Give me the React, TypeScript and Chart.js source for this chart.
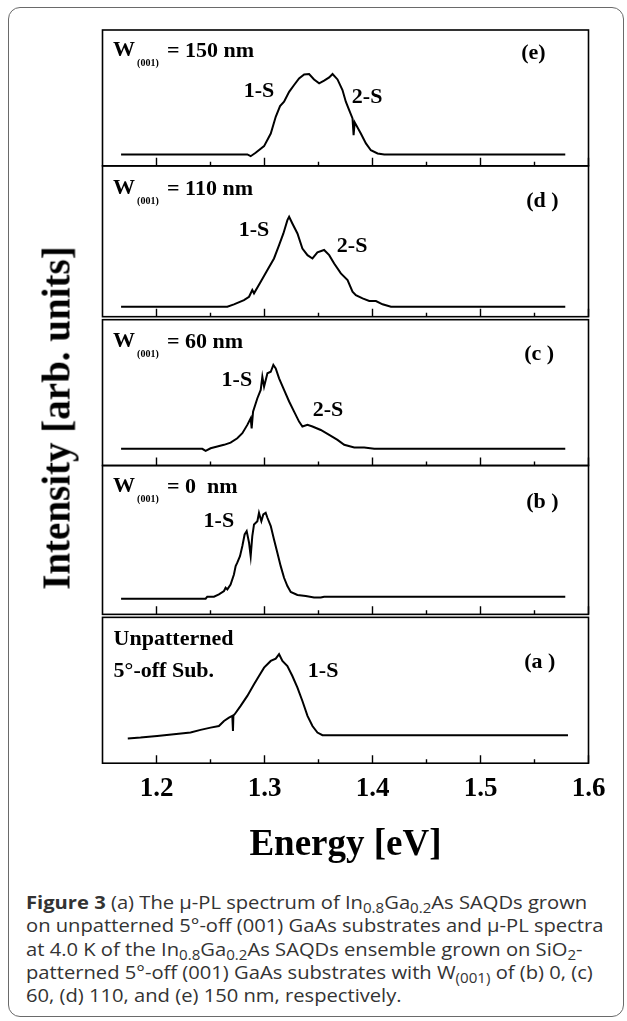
import React, { useEffect, useRef } from "react";
import { Chart, registerables } from "chart.js";

Chart.register(...registerables);

// ---------- axis ----------
const X_MIN = 1.15;
const X_MAX = 1.6;
const MAJOR_TICKS = [1.2, 1.3, 1.4, 1.5, 1.6];
const MINOR_TICKS = [1.25, 1.35, 1.45, 1.55];

// ---------- data (energy [eV], intensity [arb. units, panel fraction]) ----------
// (e) W(001) = 150 nm
const E_E = [1.1672, 1.2841, 1.2872, 1.2918, 1.2996, 1.3058, 1.3104, 1.3144, 1.3181, 1.3228, 1.3274, 1.332, 1.3367, 1.3413, 1.3459, 1.3506, 1.3552, 1.3599, 1.363, 1.3676, 1.3722, 1.3753, 1.3784, 1.3815, 1.3825, 1.3835, 1.3892, 1.3939, 1.3985, 1.4047, 1.4109, 1.5785];
const I_E = [0.084, 0.084, 0.071, 0.096, 0.145, 0.238, 0.361, 0.44, 0.472, 0.545, 0.595, 0.644, 0.673, 0.676, 0.636, 0.607, 0.627, 0.651, 0.676, 0.636, 0.558, 0.472, 0.41, 0.349, 0.226, 0.32, 0.238, 0.165, 0.115, 0.091, 0.084, 0.084];

// (d) W(001) = 110 nm
const E_D = [1.1672, 1.2656, 1.2717, 1.281, 1.2857, 1.2887, 1.2903, 1.2965, 1.3027, 1.3088, 1.3135, 1.3175, 1.3212, 1.3228, 1.3258, 1.3305, 1.3351, 1.3398, 1.3444, 1.349, 1.3552, 1.3599, 1.3645, 1.3707, 1.3769, 1.3815, 1.3846, 1.3908, 1.397, 1.4032, 1.4093, 1.4171, 1.5785];
const I_D = [0.066, 0.066, 0.082, 0.11, 0.132, 0.177, 0.155, 0.232, 0.309, 0.386, 0.475, 0.552, 0.64, 0.662, 0.618, 0.552, 0.452, 0.408, 0.386, 0.426, 0.442, 0.408, 0.353, 0.287, 0.243, 0.166, 0.143, 0.121, 0.104, 0.104, 0.082, 0.066, 0.066];

// (c) W(001) = 60 nm
const E_C = [1.1672, 1.2424, 1.2455, 1.2501, 1.2563, 1.2625, 1.2686, 1.2748, 1.2795, 1.2841, 1.2872, 1.2881, 1.2894, 1.2934, 1.2965, 1.298, 1.2996, 1.3027, 1.3058, 1.3082, 1.3104, 1.3135, 1.3181, 1.3228, 1.3274, 1.332, 1.3351, 1.3398, 1.3444, 1.3521, 1.3599, 1.3676, 1.3738, 1.3831, 1.3923, 1.4016, 1.5785];
const I_C = [0.112, 0.112, 0.098, 0.116, 0.128, 0.139, 0.154, 0.183, 0.217, 0.273, 0.318, 0.25, 0.362, 0.452, 0.508, 0.597, 0.53, 0.62, 0.63, 0.676, 0.653, 0.586, 0.508, 0.43, 0.362, 0.295, 0.262, 0.273, 0.262, 0.239, 0.206, 0.172, 0.139, 0.121, 0.121, 0.112, 0.112];

// (b) W(001) = 0 nm
const E_B = [1.1672, 1.2455, 1.247, 1.2532, 1.2578, 1.2625, 1.264, 1.2656, 1.2686, 1.2717, 1.2733, 1.2748, 1.2773, 1.2795, 1.2816, 1.2835, 1.2857, 1.2872, 1.2887, 1.2903, 1.2934, 1.2949, 1.2971, 1.2989, 1.3011, 1.3027, 1.3058, 1.3088, 1.3119, 1.315, 1.3181, 1.3212, 1.3243, 1.3305, 1.3382, 1.3459, 1.3521, 1.3552, 1.5785];
const I_B = [0.105, 0.105, 0.119, 0.119, 0.134, 0.157, 0.179, 0.168, 0.201, 0.268, 0.324, 0.347, 0.391, 0.459, 0.537, 0.559, 0.481, 0.391, 0.526, 0.604, 0.626, 0.682, 0.626, 0.671, 0.682, 0.649, 0.593, 0.503, 0.414, 0.324, 0.246, 0.19, 0.15, 0.13, 0.123, 0.114, 0.114, 0.119, 0.119];

// (a) unpatterned 5°-off substrate
const E_A = [1.1734, 1.1852, 1.2006, 1.2161, 1.2315, 1.2408, 1.2501, 1.2578, 1.2625, 1.2671, 1.2702, 1.2708, 1.2712, 1.2724, 1.2779, 1.2841, 1.2903, 1.2949, 1.2996, 1.3058, 1.3104, 1.3135, 1.3166, 1.3212, 1.3258, 1.3305, 1.3351, 1.3398, 1.3444, 1.349, 1.3537, 1.581];
const I_A = [0.166, 0.172, 0.183, 0.195, 0.206, 0.224, 0.239, 0.25, 0.284, 0.306, 0.318, 0.217, 0.32, 0.329, 0.385, 0.452, 0.53, 0.586, 0.642, 0.687, 0.702, 0.732, 0.687, 0.653, 0.586, 0.508, 0.418, 0.318, 0.25, 0.206, 0.188, 0.188];

const PANEL_IDS = ["e", "d", "c", "b", "a"];
const PANEL_E = [E_E, E_D, E_C, E_B, E_A];
const PANEL_I = [I_E, I_D, I_C, I_B, I_A];
const W_VALUES = ["150", "110", "60", "0", null];
const PANEL_TAGS = ["(e)", "(d )", "(c )", "(b )", "(a )"];

// ---------- layout (not data) ----------
const AREA_TOP = 30;
const AREA_BOTTOM = 764;
const PANEL_HEIGHTS = [136, 151, 149, 149, 149];
const PANEL_INSET = [0, 0, 3, 0, 3];

// label anchors in data coords (energy, panel fraction)
const W_POS = [[1.1598, 0.849], [1.1598, 0.85], [1.1598, 0.836], [1.1598, 0.862]];
const TAG_POS = [[1.5377, 0.831], [1.5423, 0.762], [1.5405, 0.745], [1.5423, 0.752], [1.5405, 0.678]];
const PEAK_LABELS = [
  { panel: 0, text: "1-S", pos: [1.2807, 0.546] },
  { panel: 0, text: "2-S", pos: [1.3809, 0.507] },
  { panel: 1, text: "1-S", pos: [1.2761, 0.57] },
  { panel: 1, text: "2-S", pos: [1.367, 0.464] },
  { panel: 2, text: "1-S", pos: [1.2603, 0.57] },
  { panel: 2, text: "2-S", pos: [1.3447, 0.369] },
  { panel: 3, text: "1-S", pos: [1.2436, 0.624] },
  { panel: 4, text: "1-S", pos: [1.3401, 0.617] },
  { panel: 4, text: "Unpatterned", pos: [1.1603, 0.832] },
  { panel: 4, text: "5°-off Sub.", pos: [1.1603, 0.617] },
];

const SERIF = '"Liberation Serif", "Times New Roman", serif';

function buildYScales() {
  const total = AREA_BOTTOM - AREA_TOP;
  const scales: Record<string, any> = {};
  let offset = 0;
  PANEL_IDS.forEach((id, i) => {
    const h = PANEL_HEIGHTS[i];
    const f1 = 1 - offset / total;
    const f0 = 1 - (offset + h) / total;
    offset += h;
    scales["y" + id] = {
      type: "linear",
      display: false,
      min: -f0 / (f1 - f0),
      max: (1 - f0) / (f1 - f0),
    };
  });
  return scales;
}

const framePlugin = {
  id: "panelFrames",
  afterDatasetsDraw(chart: any) {
    const { ctx, chartArea, scales } = chart;
    const xs = scales.x;
    ctx.save();
    ctx.strokeStyle = "#000";
    ctx.fillStyle = "#000";
    PANEL_IDS.forEach((id, i) => {
      const ys = scales["y" + id];
      const top = ys.getPixelForValue(1) + PANEL_INSET[i];
      const bottom = ys.getPixelForValue(0);
      ctx.lineWidth = 1.6;
      ctx.strokeRect(chartArea.left, top, chartArea.right - chartArea.left, bottom - top);
      ctx.lineWidth = 1.4;
      ctx.beginPath();
      MAJOR_TICKS.forEach((v) => {
        const x = xs.getPixelForValue(v);
        ctx.moveTo(x, bottom);
        ctx.lineTo(x, bottom - 8);
      });
      MINOR_TICKS.forEach((v) => {
        const x = xs.getPixelForValue(v);
        ctx.moveTo(x, bottom);
        ctx.lineTo(x, bottom - 4);
      });
      ctx.stroke();

      ctx.textBaseline = "middle";
      ctx.textAlign = "left";
      const w = W_VALUES[i];
      if (w !== null) {
        const [ex, fy] = W_POS[i];
        const x = xs.getPixelForValue(ex);
        const y = ys.getPixelForValue(fy);
        ctx.font = `bold 22px ${SERIF}`;
        ctx.fillText("W", x, y);
        ctx.font = `bold 10px ${SERIF}`;
        ctx.fillText("(001)", x + 24, y + 13);
        ctx.font = `bold 22px ${SERIF}`;
        ctx.fillText(w === "0" ? "= 0  nm" : `= ${w} nm`, x + 54, y + 1);
      }
      const [tx, ty] = TAG_POS[i];
      ctx.font = `bold 22px ${SERIF}`;
      ctx.fillText(PANEL_TAGS[i], xs.getPixelForValue(tx), ys.getPixelForValue(ty));
    });
    PEAK_LABELS.forEach((l) => {
      const ys = scales["y" + PANEL_IDS[l.panel]];
      ctx.font = `bold 22px ${SERIF}`;
      ctx.fillText(l.text, xs.getPixelForValue(l.pos[0]), ys.getPixelForValue(l.pos[1]));
    });
    ctx.restore();
  },
};

function SpectraChart() {
  const ref = useRef<HTMLCanvasElement | null>(null);
  useEffect(() => {
    if (!ref.current) return;
    const chart = new Chart(ref.current, {
      type: "line",
      data: {
        datasets: PANEL_IDS.map((id, i) => ({
          label: id,
          data: PANEL_E[i].map((x, k) => ({ x, y: PANEL_I[i][k] })),
          yAxisID: "y" + id,
          borderColor: "#000",
          borderWidth: 2,
          pointRadius: 0,
          tension: 0,
          fill: false,
        })),
      },
      options: {
        animation: false,
        responsive: true,
        maintainAspectRatio: false,
        layout: { padding: { left: 102.5, right: 38.5, top: AREA_TOP, bottom: 0 } },
        plugins: { legend: { display: false }, tooltip: { enabled: false } },
        scales: {
          x: {
            type: "linear",
            min: X_MIN,
            max: X_MAX,
            afterBuildTicks: (s: any) => {
              s.ticks = MAJOR_TICKS.map((v) => ({ value: v }));
            },
            grid: { display: false, drawTicks: false },
            border: { display: false },
            ticks: {
              font: { family: SERIF, size: 27, weight: "bold" },
              color: "#000",
              padding: 10,
              maxRotation: 0,
              autoSkip: false,
              callback: (v: any) => Number(v).toFixed(1),
            },
            title: {
              display: true,
              text: "Energy [eV]",
              font: { family: SERIF, size: 37, weight: "bold" },
              color: "#000",
              padding: { top: 8, bottom: 2 },
            },
          },
          ...buildYScales(),
        },
      } as any,
      plugins: [framePlugin],
    });
    return () => chart.destroy();
  }, []);
  return (
    <div style={{ position: "absolute", left: 0, top: 0, width: 627, height: 870 }}>
      <canvas ref={ref} />
    </div>
  );
}

const subStyle: React.CSSProperties = { fontSize: "0.75em", verticalAlign: "-0.3em", lineHeight: 0 };

export default function App() {
  return (
    <div style={{ position: "absolute", left: 0, top: 0, width: 627, height: 1021, background: "#fff" }}>
      <div
        style={{
          position: "absolute",
          left: 8,
          top: 7,
          width: 616,
          height: 1010,
          boxSizing: "border-box",
          border: "1.5px solid #6a6a6a",
          borderRadius: 12,
        }}
      />
      <SpectraChart />
      <div
        style={{
          position: "absolute",
          left: 56,
          top: 418,
          transform: "translate(-50%, -50%) rotate(-90deg)",
          whiteSpace: "nowrap",
          fontFamily: SERIF,
          fontWeight: "bold",
          fontSize: 39,
          color: "#000",
          lineHeight: 1,
        }}
      >
        Intensity [arb. units]
      </div>
      <div
        style={{
          position: "absolute",
          left: 26,
          top: 890,
          whiteSpace: "nowrap",
          fontFamily: '"Open Sans", sans-serif',
          fontSize: 18.5,
          lineHeight: "23.3px",
          color: "#333",
          transform: "scaleX(1.09)",
          transformOrigin: "0 0",
        }}
      >
        <div>
          <b>Figure 3</b> (a) The μ-PL spectrum of In<sub style={subStyle}>0.8</sub>Ga<sub style={subStyle}>0.2</sub>As SAQDs grown
        </div>
        <div>on unpatterned 5°-off (001) GaAs substrates and μ-PL spectra</div>
        <div>
          at 4.0 K of the In<sub style={subStyle}>0.8</sub>Ga<sub style={subStyle}>0.2</sub>As SAQDs ensemble grown on SiO<sub style={subStyle}>2</sub>-
        </div>
        <div>
          patterned 5°-off (001) GaAs substrates with W<sub style={subStyle}>(001)</sub> of (b) 0, (c)
        </div>
        <div>60, (d) 110, and (e) 150 nm, respectively.</div>
      </div>
    </div>
  );
}
